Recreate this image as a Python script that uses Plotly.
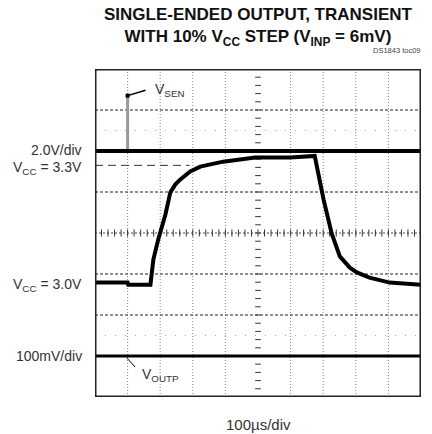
import plotly.graph_objects as go

# ---- data (x in divisions of 100us, y in screen divisions) ----
sen_x = [0.0, 10.0]
sen_y = [6.0, 6.0]
spike_x = [1.0, 1.0]
spike_y = [6.0, 7.35]

outp_x = [0.0, 10.0]
outp_y = [1.0, 1.0]

vcc_x = [0.0, 1.0, 1.02, 1.70, 1.79, 1.94, 2.16, 2.31, 2.46, 2.61, 2.92, 3.23,
         3.93, 4.91, 5.98, 6.68, 6.74, 7.01, 7.26, 7.51, 7.81, 8.03, 8.42, 9.04, 9.95, 10.0]
vcc_y = [2.79, 2.79, 2.74, 2.74, 3.35, 3.84, 4.45, 4.99, 5.18, 5.30, 5.50, 5.62,
         5.74, 5.84, 5.84, 5.89, 5.88, 4.82, 3.99, 3.43, 3.16, 3.04, 2.91, 2.79, 2.74, 2.74]

ref33_x = [0.0, 2.9]
ref33_y = [5.65, 5.65]

vgrid = [1, 2, 3, 4, 6, 7, 8, 9]
hgrid_dash = [7, 5, 3, 2]
hgrid_dot = [6.5, 1.5]
minor = [i * 0.2 for i in range(0, 51)]
minor_v = [i * 0.2 for i in range(0, 41)]

FONT = "Liberation Sans, Arial, sans-serif"

fig = go.Figure()

# center cross ticks
fig.add_trace(go.Scatter(x=minor, y=[4] * len(minor), mode="lines+markers",
                         line=dict(color="#444", width=1, dash="2px,2px"),
                         marker=dict(symbol="line-ns", size=5, line=dict(width=1, color="#333")),
                         hoverinfo="skip", showlegend=False))
fig.add_trace(go.Scatter(x=[5] * len(minor_v), y=minor_v, mode="markers",
                         marker=dict(symbol="line-ew", size=4, line=dict(width=1, color="#333")),
                         hoverinfo="skip", showlegend=False))

# Vcc = 3.3V reference
fig.add_trace(go.Scatter(x=ref33_x, y=ref33_y, mode="lines",
                         line=dict(color="#333", width=1, dash="8px,5px"),
                         hoverinfo="skip", showlegend=False))

# traces
fig.add_trace(go.Scatter(x=spike_x, y=spike_y, mode="lines",
                         line=dict(color="#999", width=3), hoverinfo="skip", showlegend=False))
fig.add_trace(go.Scatter(x=sen_x, y=sen_y, mode="lines",
                         line=dict(color="black", width=4), hoverinfo="skip", showlegend=False))
fig.add_trace(go.Scatter(x=outp_x, y=outp_y, mode="lines",
                         line=dict(color="black", width=3), hoverinfo="skip", showlegend=False))
fig.add_trace(go.Scatter(x=vcc_x, y=vcc_y, mode="lines",
                         line=dict(color="black", width=4), hoverinfo="skip", showlegend=False))

# leaders
fig.add_trace(go.Scatter(x=[1.0, 1.55], y=[7.35, 7.48], mode="lines",
                         line=dict(color="black", width=1.5), hoverinfo="skip", showlegend=False))
fig.add_trace(go.Scatter(x=[1.0], y=[7.35], mode="markers",
                         marker=dict(color="black", size=4, symbol="square"), hoverinfo="skip", showlegend=False))
fig.add_trace(go.Scatter(x=[0.98, 1.23], y=[0.95, 0.73], mode="lines",
                         line=dict(color="black", width=1), hoverinfo="skip", showlegend=False))

shapes = []
for v in vgrid:
    shapes.append(dict(type="line", xref="x", yref="y", x0=v, x1=v, y0=0, y1=8,
                       line=dict(color="#888", width=1, dash="1px,2px"), layer="below"))
for h in hgrid_dash:
    shapes.append(dict(type="line", xref="x", yref="y", x0=0, x1=10, y0=h, y1=h,
                       line=dict(color="#222", width=1, dash="3px,2px"), layer="below"))
for h in hgrid_dot:
    shapes.append(dict(type="line", xref="x", yref="y", x0=0, x1=10, y0=h, y1=h,
                       line=dict(color="#aaa", width=1, dash="1px,9px"), layer="below"))
shapes.append(dict(type="rect", xref="x", yref="y", x0=0, x1=10, y0=0, y1=8,
                   line=dict(color="#222", width=3)))

ann = []
def A(text, x, y, size, xanchor="center", color="#222"):
    ann.append(dict(text=text, x=x, y=y, xref="paper", yref="paper", showarrow=False,
                    xanchor=xanchor, yanchor="middle",
                    font=dict(family=FONT, size=size, color=color)))

A("<b>SINGLE-ENDED OUTPUT, TRANSIENT<br>WITH 10% V<sub>CC</sub> STEP (V<sub>INP</sub> = 6mV)</b>",
  0.5, 1.128, 17, color="#111")
A("DS1843 toc09", 1.006, 1.055, 7.5, xanchor="right", color="#444")
A("2.0V/div", -0.0337, 0.753, 14, xanchor="right", color="#333")
A("V<sub>CC</sub> = 3.3V", -0.0337, 0.698, 14, xanchor="right", color="#333")
A("V<sub>CC</sub> = 3.0V", -0.0337, 0.342, 14, xanchor="right", color="#333")
A("100mV/div", -0.0337, 0.125, 14, xanchor="right", color="#333")
A("V<sub>SEN</sub>", 0.178, 0.937, 14, xanchor="left", color="#333")
A("V<sub>OUTP</sub>", 0.138, 0.068, 14, xanchor="left", color="#333")
A("100µs/div", 0.503, -0.085, 15, color="#333")

fig.update_layout(
    width=432, height=434,
    margin=dict(l=95, r=11, t=69, b=37),
    paper_bgcolor="white", plot_bgcolor="white",
    xaxis=dict(range=[0, 10], visible=False, fixedrange=True),
    yaxis=dict(range=[0, 8], visible=False, fixedrange=True),
    shapes=shapes, annotations=ann, showlegend=False,
)

fig.write_html("out.html", config={"displayModeBar": False},
               post_script="document.body.style.margin='0px';")
